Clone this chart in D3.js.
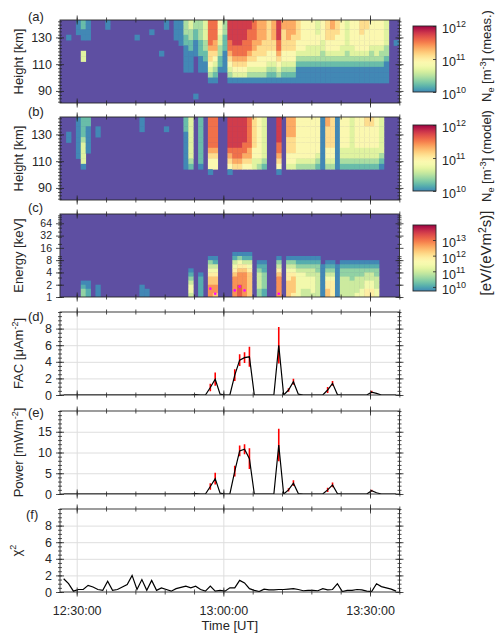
<!DOCTYPE html>
<html>
<head>
<meta charset="utf-8">
<script src="https://cdn.jsdelivr.net/npm/d3@7"></script>
<style>
  body { margin: 0; background: #fff; }
  text { font-family: "Liberation Sans", Arial, sans-serif; fill: #262626; }
</style>
</head>
<body>
<svg id="fig" width="500" height="638"></svg>
<script>
// ---------------- data ----------------
const firstProfile = "12:27:20";          // one profile per minute from here on
const timeLabels = ["12:30:00", "13:00:00", "13:30:00"];

// altitude gates (km), top row first
const heightBins = [142, 138, 134, 130, 126, 122, 118, 114, 110, 106, 102, 98, 94, 90, 86, 82];
// Ne level per gate: "." = below range, 0..9 = 10^10 .. 10^12 m^-3
const neMeas = [
  "................", "...0............", "................", "000.............", "1100..33........",
  "0000............", "................", "................", "................", "00..............",
  "................", "................", "................", "................", "................",
  "...0............", "................", "................", "..0.............", "................",
  "......0.........", "00..............", "................", "0000............", "00000...........",
  "2221100000......", "3322110000......", "2211000.......0.", "2222111000......", "3333221100......",
  "777776554320....", "777766543210....", "4443322110......", "2221110000......", "888877654320....",
  "888887765430....", "888887765430....", "888877765430....", "887777654320....", "777766554320....",
  "666665544320....", "666655544320....", "555555443210....", "666655443210....", "888877654320....",
  "665555443210....", "666655443210....", "666555443210....", "555544321000....", "444444321000....",
  "444443321000....", "444443321000....", "333443321000....", "444433221000....", "555544321000....",
  "665544321000....", "555444321000....", "444443321000....", "333333221000....", "444443321000....",
  "444444321000....", "555444321000....", "554444321000....", "444443221000....", "444443321000....",
  "444443221000....", "333332210000....", "................", "....0..........."
];
const neModel = [
  "................", "...00...........", "................", "00000000........", "1111233330......",
  "1100000.........", "................", "..00............", "................", "................",
  "................", "................", "................", "................", "................",
  "................", "000.............", "................", "................", "................",
  "................", "..0.............", "................", "................", "................",
  "1110000000......", "3333333321......", "................", "1111111110......", "................",
  "77777765440.....", "7777776544......", "................", "................", "88888876540.....",
  "8888887765......", "8888887765......", "8888877654......", "7777776654......", "5555554433......",
  "4444444432......", "3333333321......", "................", "................", "88888776540.....",
  "................", "6666555443......", "6666555443......", "4444444432......", "4444444432......",
  "4444444432......", "4444444432......", "4444444321......", "0000000000......", "6655554432......",
  "5555554432......", "0000000000......", "4444443321......", "4444443321......", "3333333321......",
  "4444443321......", "4444443321......", "5544443321......", "5544443321......", "4444443321......",
  "3333333210......", "................", "................", "................"
];

// energy bin edges (keV); spectrogram strings list the highest bin first
const energyEdges = [1, 1.26, 1.59, 2, 2.52, 3.17, 4, 5.04, 6.35, 8, 10.1, 12.7, 16, 20.2, 25.4, 32, 40.3, 50.8, 64, 80.6, 101.6];
// flux level: "." = below range, 0..9 = 10^9.6 .. 10^13.65 eV/(eV m^2 s)
const flux = [
  "....................", "....................", "....................", "....................", "................0122",
  "................0011", "....................", ".................000", "....................", "....................",
  "....................", "....................", "....................", "....................", "....................",
  "....................", ".................000", "..................00", "....................", "....................",
  "....................", "....................", "....................", "....................", "....................",
  "....................", ".............0123443", "....................", "..............011111", "....................",
  "..........0234566777", "..........0134566776", "....................", "....................", "....................",
  ".........01345677777", ".........02456777888", ".........01356777777", ".........01345666666", "....................",
  "...........012333322", "...........011222211", "....................", "....................", "..........0235677777",
  "....................", "..........0234556666", "..........0234566665", "..........0123444444", "..........0123444433",
  "..........0123344433", "..........0123344443", "..........0122333333", "............00000000", "...........012345566",
  "...........012345555", "............00000000", "...........012233333", "...........012233333", "...........012223333",
  "...........012233334", "...........012233344", "...........012334455", "...........012334455", "...........012233344",
  "....................", "....................", "....................", "...................."
];
// magenta markers in (c): [profile index, keV]
const peakEnergy = [[30, 1.6], [31, 1.2], [35, 1.45], [36, 1.8], [37, 1.45], [44, 1.2]];

const fac = [
  0, 0, 0, 0, 0, 0, 0, 0, 0, 0,
  0, 0, 0, 0, 0, 0, 0, 0, 0, 0,
  0, 0, 0, 0, 0, 0, 0, 0.05, 0, 0,
  0.9, 1.9, 0.1, 0, 0, 2.4, 4.2, 4.5, 4.6, 0,
  0, 0, 0, 0, 6.0, 0, 0.6, 1.6, 0.1, 0,
  0, 0, 0, 0, 0.6, 1.4, 0.05, 0, 0, 0,
  0, 0, 0, 0.35, 0.2, 0, 0, 0, 0
];
const facErr = [
  0, 0, 0, 0, 0, 0, 0, 0, 0, 0,
  0, 0, 0, 0, 0, 0, 0, 0, 0, 0,
  0, 0, 0, 0, 0, 0, 0, 0, 0, 0,
  0.45, 0.8, 0, 0, 0, 0.7, 0.7, 0.65, 1.2, 0,
  0, 0, 0, 0, 2.2, 0, 0.2, 0.35, 0, 0,
  0, 0, 0, 0, 0.35, 0.3, 0, 0, 0, 0,
  0, 0, 0, 0.15, 0, 0, 0, 0, 0
];
const power = [
  0, 0, 0, 0, 0, 0, 0, 0, 0, 0,
  0, 0, 0, 0, 0, 0, 0, 0, 0, 0,
  0, 0, 0, 0, 0, 0, 0, 0.1, 0, 0,
  1.8, 3.7, 0.2, 0, 0, 5.5, 10.4, 10.8, 8.5, 0,
  0, 0, 0, 0, 11.8, 0, 1.0, 2.6, 0.1, 0,
  0, 0, 0, 0, 1.0, 2.2, 0.1, 0, 0, 0,
  0, 0, 0, 0.8, 0.3, 0, 0, 0, 0
];
const powerErr = [
  0, 0, 0, 0, 0, 0, 0, 0, 0, 0,
  0, 0, 0, 0, 0, 0, 0, 0, 0, 0,
  0, 0, 0, 0, 0, 0, 0, 0, 0, 0,
  0.8, 1.4, 0, 0, 0, 1.3, 1.3, 1.2, 2.5, 0,
  0, 0, 0, 0, 3.9, 0, 0.4, 0.7, 0, 0,
  0, 0, 0, 0, 0.5, 0.6, 0, 0, 0, 0,
  0, 0, 0, 0.2, 0, 0, 0, 0, 0
];
const chi2 = [
  1.6, 1.0, 0.1, 0.3, 0.3, 0.8, 0.6, 0.3, 0.2, 1.3,
  0.2, 0.3, 0.6, 0.9, 2.0, 0.3, 1.5, 0.2, 1.4, 0.2,
  0.5, 0.3, 0.1, 0.4, 0.55, 0.7, 0.5, 0.7, 0.3, 0.1,
  0.7, 0.1, 0.2, 0.1, 0.5, 0.5, 1.4, 1.1, 0.4, 0.2,
  0.05, 0.35, 0.25, 0.25, 0.3, 0.3, 0.35, 0.4, 0.3, 0.15,
  0.2, 0.2, 0.15, 0.4, 0.25, 0.3, 1.0, 0.05, 0.2, 0.2,
  0.3, 0.25, 0.1, 0.05, 1.0, 0.65, 0.5, 0.35, 0.1
];

// ---------------- layout ----------------
const svg = d3.select("#fig");
const defs = svg.append("defs");
const ink = "#262626";
const L = 60, R = 399.5, PH = 83;
const tops = { a: 20, b: 117, c: 214, d: 312, e: 411, f: 509 };

const parseT = d3.utcParse("%H:%M:%S");
const x = d3.scaleUtc().domain([parseT("12:26:35"), parseT("13:36:02")]).range([L, R]);
const t0 = parseT(firstProfile);
const profTimes = fac.map((_, i) => d3.utcMinute.offset(t0, i));
const tick6 = d3.utcMinute.every(6).range(x.domain()[0], x.domain()[1]);
const tick30 = timeLabels.map(parseT);

const spectral = t => d3.interpolateSpectral(t);
const neT = d3.scaleLinear().domain([10, 12]).range([0.9, 0]).clamp(true);
const fluxT = d3.scaleLinear().domain([9.74, 13.96]).range([0.9, 0]).clamp(true);
const purple = d3.interpolateSpectral(1);

let clipN = 0;
function clipFor(top) {
  const id = "clip" + (clipN++);
  defs.append("clipPath").attr("id", id).append("rect")
    .attr("x", L).attr("y", top).attr("width", R - L).attr("height", PH);
  return `url(#${id})`;
}

function tickAxis(g, axis, transform) {
  g.append("g").attr("transform", transform)
    .call(axis.tickFormat("").tickSizeOuter(0))
    .call(a => a.select(".domain").remove())
    .selectAll("line").attr("stroke", ink).attr("stroke-width", 0.8);
}

// box, time ticks, y ticks on both sides (ticks point in and out)
function frame(top, y, yMajor, yMinor, yFmt, rightMinor, labelSize = 12.5) {
  const g = svg.append("g");
  const bottom = top + PH;
  [[d3.axisTop, top], [d3.axisBottom, bottom]].forEach(([ax, yy]) => {
    [2.5, -2.5].forEach(s => tickAxis(g, ax(x).tickValues(tick6).tickSize(s), `translate(0,${yy})`));
    [4.5, -4.5].forEach(s => tickAxis(g, ax(x).tickValues(tick30).tickSize(s), `translate(0,${yy})`));
  });
  [[d3.axisLeft, L, yMinor], [d3.axisRight, R, rightMinor || yMinor]].forEach(([ax, xx, minor]) => {
    [2, -2].forEach(s => tickAxis(g, ax(y).tickValues(minor).tickSize(s), `translate(${xx},0)`));
    [4, -4].forEach(s => tickAxis(g, ax(y).tickValues(yMajor).tickSize(s), `translate(${xx},0)`));
  });
  g.append("rect").attr("x", L).attr("y", top).attr("width", R - L).attr("height", PH)
    .attr("fill", "none").attr("stroke", ink).attr("stroke-width", 0.9);
  g.append("g").attr("transform", `translate(${L},0)`)
    .call(d3.axisLeft(y).tickValues(yMajor).tickSize(0).tickPadding(8).tickFormat(yFmt))
    .call(a => a.select(".domain").remove())
    .selectAll("text").attr("font-size", labelSize).attr("fill", ink)
    .style("font-family", '"Liberation Sans", Arial, sans-serif');
  return g;
}

function gridLines(top, y, yVals) {
  const g = svg.append("g");
  g.append("g").attr("transform", `translate(0,${top + PH})`)
    .call(d3.axisBottom(x).tickValues(tick30).tickSize(-PH).tickFormat(""))
    .call(a => a.select(".domain").remove())
    .selectAll("line").attr("stroke", "#dedede").attr("stroke-width", 1);
  g.append("g").attr("transform", `translate(${L},0)`)
    .call(d3.axisLeft(y).tickValues(yVals).tickSize(-(R - L)).tickFormat(""))
    .call(a => a.select(".domain").remove())
    .selectAll("line").attr("stroke", "#dedede").attr("stroke-width", 1);
}

function panelLabel(txt, px, py) {
  svg.append("text").attr("x", px).attr("y", py).attr("font-size", 13).text(txt);
}

function yTitle(cy, parts, xx = 23, size = 13) {
  const t = svg.append("text").attr("transform", `translate(${xx},${cy}) rotate(-90)`)
    .attr("text-anchor", "middle").attr("font-size", size);
  let shift = 0;
  parts.forEach(([s, kind]) => {
    const sp = t.append("tspan").text(s);
    if (kind === "sup") { sp.attr("font-size", size * 0.7).attr("dy", -5 - shift); shift = -5; }
    else if (kind === "sub") { sp.attr("font-size", size * 0.7).attr("dy", 3 - shift); shift = 3; }
    else { sp.attr("dy", -shift); shift = 0; }
  });
}

function colorbar(top, bottom, domain, ticks, labelParts, labelY, labelSize = 13) {
  const cx = 413, cw = 23;
  const s = d3.scaleLinear().domain(domain).range([bottom, top]);
  const id = "grad" + top;
  const grad = defs.append("linearGradient").attr("id", id)
    .attr("x1", 0).attr("y1", 1).attr("x2", 0).attr("y2", 0);
  d3.range(0, 1.0001, 0.05).forEach(t =>
    grad.append("stop").attr("offset", t).attr("stop-color", spectral(0.9 - 0.9 * t)));
  svg.append("rect").attr("x", cx).attr("y", top).attr("width", cw).attr("height", bottom - top)
    .attr("fill", `url(#${id})`).attr("stroke", ink).attr("stroke-width", 0.9);
  tickAxis(svg, d3.axisLeft(s).tickValues(ticks).tickSize(3), `translate(${cx + cw},0)`);
  const lab = svg.append("g").attr("transform", `translate(${cx + cw},0)`)
    .call(d3.axisRight(s).tickValues(ticks).tickSize(0).tickPadding(6).tickFormat(""))
    .call(a => a.select(".domain").remove());
  lab.selectAll(".tick text").attr("font-size", 12.5).attr("dy", "0.55em")
    .style("font-family", '"Liberation Sans", Arial, sans-serif').attr("fill", ink)
    .each(function (d) {
      const t = d3.select(this);
      t.append("tspan").text("10");
      t.append("tspan").attr("dy", -6).attr("font-size", 9).text(d);
    });
  yTitle(labelY, labelParts, 491, labelSize);
}

// ---------------- heatmaps ----------------
function heatmap(top, y, cols, rowEdges, colorOf) {
  const g = svg.append("g").attr("clip-path", clipFor(top));
  g.append("rect").attr("x", L).attr("y", top).attr("width", R - L).attr("height", PH).attr("fill", purple);
  const cells = [];
  cols.forEach((col, i) => {
    [...col].forEach((ch, r) => {
      if (ch !== ".") cells.push({ i, r, lvl: +ch });
    });
  });
  g.selectAll("rect.cell").data(cells).join("rect").attr("class", "cell")
    .attr("x", d => x(d3.utcSecond.offset(profTimes[d.i], -30)))
    .attr("width", d => x(d3.utcSecond.offset(profTimes[d.i], 30)) - x(d3.utcSecond.offset(profTimes[d.i], -30)) + 0.4)
    .attr("y", d => y(rowEdges(d.r)[1]))
    .attr("height", d => y(rowEdges(d.r)[0]) - y(rowEdges(d.r)[1]) + 0.4)
    .attr("fill", d => colorOf(d.lvl));
  return g;
}

const heightRow = r => [heightBins[r] - 2, heightBins[r] + 2];
const energyRow = r => { const k = energyEdges.length - 2 - r; return [energyEdges[k], energyEdges[k + 1]]; };
const neColor = lvl => spectral(neT(10 + lvl * 2 / 9));
const fluxColor = lvl => spectral(fluxT(9.6 + lvl * 0.45));

// (a)
const yA = d3.scaleLinear().domain([81, 143]).range([tops.a + PH, tops.a]);
heatmap(tops.a, yA, neMeas, heightRow, neColor);
frame(tops.a, yA, [90, 110, 130], d3.range(82, 143, 2.5), d => d);
panelLabel("(a)", 28, 21);
yTitle(tops.a + PH / 2, [["Height [km]"]]);
colorbar(26, 92, [10, 12], [10, 11, 12],
  [["N"], ["e", "sub"], [" [m"], ["-3", "sup"], ["] (meas.)"]], 56);

// (b)
const yB = d3.scaleLinear().domain([81, 143]).range([tops.b + PH, tops.b]);
heatmap(tops.b, yB, neModel, heightRow, neColor);
frame(tops.b, yB, [90, 110, 130], d3.range(82, 143, 2.5), d => d);
panelLabel("(b)", 28, 116);
yTitle(tops.b + PH / 2, [["Height [km]"]]);
colorbar(125, 191, [10, 12], [10, 11, 12],
  [["N"], ["e", "sub"], [" [m"], ["-3", "sup"], ["] (model)"]], 156);

// (c)
const yC = d3.scaleLog().domain([1, 108]).range([tops.c + PH, tops.c]);
heatmap(tops.c, yC, flux, energyRow, fluxColor)
  .selectAll("circle").data(peakEnergy).join("circle")
  .attr("cx", d => x(profTimes[d[0]])).attr("cy", d => yC(d[1])).attr("r", 1.3).attr("fill", "#ff00ff");
const logTicks = [1, 2, 3, 4, 5, 6, 7, 8, 9, 10, 20, 30, 40, 50, 60, 70, 80, 90, 100];
frame(tops.c, yC, [1, 2, 4, 8, 16, 32, 64], logTicks, d => d, logTicks, 10.5);
panelLabel("(c)", 28, 212);
yTitle(tops.c + PH / 2, [["Energy [keV]"]]);
colorbar(225, 291, [9.74, 13.96], [10, 11, 12, 13],
  [["[eV/(eVm"], ["2", "sup"], ["s)]"]], 253, 15);

// line panels
function linePanel(top, y, vals, errs, yMajor, yMinor, gridVals) {
  gridLines(top, y, gridVals);
  const g = svg.append("g").attr("clip-path", clipFor(top));
  if (errs) {
    const bars = vals.map((v, i) => [i, v, errs[i]]).filter(d => d[2] > 0);
    g.selectAll("line.err").data(bars).join("line").attr("class", "err")
      .attr("x1", d => x(profTimes[d[0]])).attr("x2", d => x(profTimes[d[0]]))
      .attr("y1", d => y(Math.max(0, d[1] - d[2]))).attr("y2", d => y(d[1] + d[2]))
      .attr("stroke", "#ff0000").attr("stroke-width", 1.6);
  }
  g.append("path").datum(vals)
    .attr("d", d3.line().x((v, i) => x(profTimes[i])).y(v => y(v)))
    .attr("fill", "none").attr("stroke", "#000").attr("stroke-width", 1.2);
  frame(top, y, yMajor, yMinor, d => d);
}

const yD = d3.scaleLinear().domain([0, 10]).range([tops.d + PH, tops.d]);
linePanel(tops.d, yD, fac, facErr, [0, 2, 4, 6, 8], d3.range(0, 10.01, 0.5), [2, 4, 6, 8]);
panelLabel("(d)", 28, 321);
yTitle(tops.d + PH / 2, [["FAC [\u03BCAm"], ["-2", "sup"], ["]"]]);

const yE = d3.scaleLinear().domain([0, 20]).range([tops.e + PH, tops.e]);
linePanel(tops.e, yE, power, powerErr, [0, 5, 10, 15], d3.range(0, 20.01, 1), [5, 10, 15]);
panelLabel("(e)", 28, 417);
yTitle(tops.e + PH / 2, [["Power [mWm"], ["-2", "sup"], ["]"]]);

const yF = d3.scaleLinear().domain([0, 10]).range([tops.f + PH, tops.f]);
linePanel(tops.f, yF, chi2, null, [0, 2, 4, 6, 8], d3.range(0, 10.01, 0.5), [2, 4, 6, 8]);
panelLabel("(f)", 26, 519);
yTitle(tops.f + PH / 2, [["\u03C7"], ["2", "sup"]], 21);

// time labels under the last panel
svg.append("g").attr("transform", `translate(0,${tops.f + PH})`)
  .call(d3.axisBottom(x).tickValues(tick30).tickSize(0).tickPadding(14).tickFormat(d3.utcFormat("%H:%M:%S")))
  .call(a => a.select(".domain").remove())
  .selectAll("text").attr("font-size", 12.5).attr("fill", ink)
  .style("font-family", '"Liberation Sans", Arial, sans-serif');
svg.append("text").attr("x", (L + R) / 2).attr("y", 630).attr("text-anchor", "middle")
  .attr("font-size", 13).text("Time [UT]");
</script>
</body>
</html>
